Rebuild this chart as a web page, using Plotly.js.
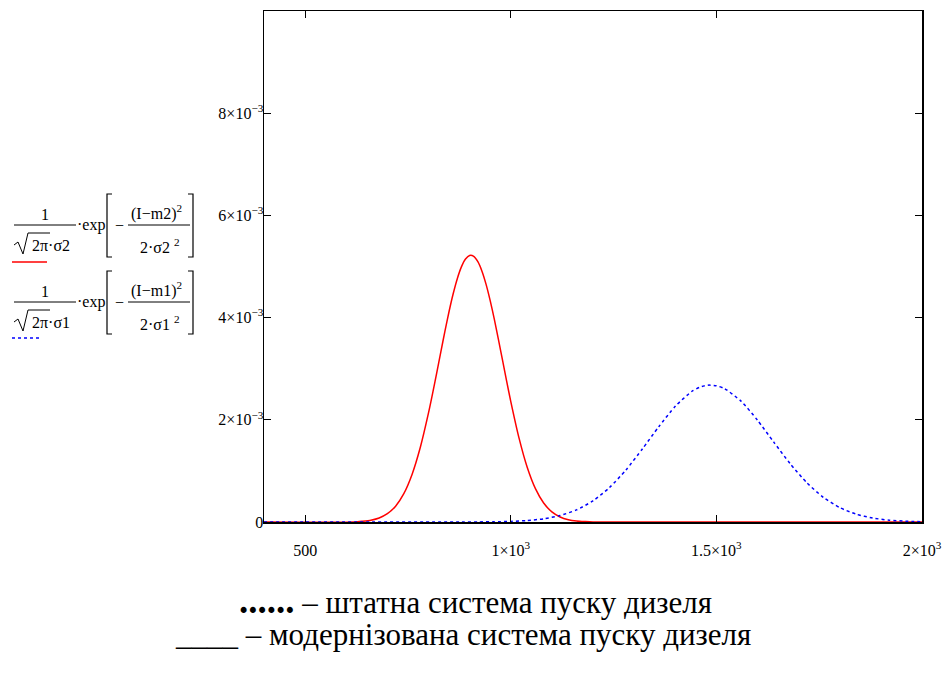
<!DOCTYPE html>
<html>
<head>
<meta charset="utf-8">
<script src="https://cdn.plot.ly/plotly-3.0.1.min.js"></script>
<style>body{margin:0;background:#fff}#chart{width:947px;height:677px}</style>
</head>
<body>
<div id="chart"></div>
<script>
// Modernized system (red, solid)
const redX = [400, 620, 640, 660, 680, 700, 720, 740, 760, 780, 800, 810, 820, 830, 840, 850, 860, 870, 880, 890, 900, 910, 920, 930, 940, 950, 960, 970, 980, 990, 1000, 1020, 1040, 1060, 1080, 1100, 1120, 1140, 1160, 1180, 1200, 2000];
const redY = [0, 0, 0.0000153, 0.0000359, 0.0000788, 0.000162, 0.000310, 0.000555, 0.000931, 0.001457, 0.002134, 0.002517, 0.002920, 0.003330, 0.003735, 0.004119, 0.004466, 0.004762, 0.004992, 0.005146, 0.005216, 0.005199, 0.005094, 0.004909, 0.004651, 0.004333, 0.003969, 0.003575, 0.003166, 0.002757, 0.002361, 0.001646, 0.001072, 0.000653, 0.000372, 0.000198, 0.0000984, 0.0000458, 0.0000199, 0.0000081, 0, 0];
// Standard system (blue, dotted)
const blueX = [400, 880, 920, 960, 1000, 1040, 1080, 1120, 1160, 1200, 1240, 1280, 1320, 1360, 1400, 1440, 1460, 1480, 1500, 1520, 1560, 1600, 1640, 1680, 1720, 1760, 1800, 1840, 1880, 1920, 1960, 2000];
const blueY = [0, 0.0000006, 0.0000018, 0.0000048, 0.0000122, 0.0000286, 0.0000622, 0.000126, 0.000237, 0.000414, 0.000673, 0.001017, 0.001429, 0.001865, 0.002264, 0.002554, 0.002639, 0.002678, 0.002666, 0.002610, 0.002365, 0.001992, 0.001559, 0.001135, 0.000768, 0.000483, 0.000282, 0.000153, 0.0000774, 0.0000364, 0.0000159, 0.0000064];

const xTickVals = [500, 1000, 1500, 2000];
const xTickText = ['500', '1×10<sup>3</sup>', '1.5×10<sup>3</sup>', '2×10<sup>3</sup>'];
const yTickVals = [0, 0.002, 0.004, 0.006, 0.008];
const yTickText = ['0', '2×10<sup>−3</sup>', '4×10<sup>−3</sup>', '6×10<sup>−3</sup>', '8×10<sup>−3</sup>'];

const legendLine1 = '<span style="font-size:37px"><b>......</b></span> – штатна система пуску дизеля';
const legendLine2 = '____ – модернізована система пуску дизеля';

// plot area in pixels
const L = 264, R = 922, T = 11, B = 522;
const W = 947, H = 677;
const px = x => (x - L) / (R - L);
const py = y => (B - y) / (B - T);

const FONT = 'Liberation Serif';

const annotations = [];
const shapes = [];
function txt(text, x, y, size, xanchor) {
  annotations.push({text: text, x: px(x), y: py(y), xref: 'paper', yref: 'paper',
    showarrow: false, xanchor: xanchor || 'center', yanchor: 'middle',
    font: {family: FONT, size: size || 17, color: '#000'}});
}
function line(x0, y0, x1, y1, color, width, dash) {
  shapes.push({type: 'line', xref: 'paper', yref: 'paper', x0: px(x0), y0: py(y0), x1: px(x1), y1: py(y1),
    line: {color: color || '#000', width: width || 1, dash: dash || 'solid'}});
}
function path(pts, width) {
  let d = '';
  pts.forEach((p, i) => { d += (i ? ' L ' : 'M ') + px(p[0]) + ',' + py(p[1]); });
  shapes.push({type: 'path', xref: 'paper', yref: 'paper', path: d, line: {color: '#000', width: width || 1}});
}
function formula(dy, idx) {
  txt('1', 45, 214 + dy, 16);
  line(14, 225 + dy, 76, 225 + dy);
  path([[14, 245 + dy], [18, 242 + dy], [23, 254 + dy], [28, 233 + dy], [50, 233 + dy]], 1);
  txt('2π·σ' + idx, 30, 245 + dy, 16, 'left');
  txt('·exp', 75, 225 + dy, 16, 'left');
  path([[112, 194 + dy], [107, 194 + dy], [107, 257 + dy], [112, 257 + dy]], 1.2);
  txt('−', 119, 225 + dy, 16);
  txt('(I−m' + idx + ')<sup>2</sup>', 129, 212 + dy, 16, 'left');
  line(128, 225 + dy, 190, 225 + dy);
  txt('2·σ' + idx + ' <sup>2</sup>', 160, 246 + dy, 16);
  path([[188, 194 + dy], [193, 194 + dy], [193, 257 + dy], [188, 257 + dy]], 1.2);
}
formula(0, '2');
formula(77, '1');
line(12, 262, 47, 262, '#ff0000', 1.5);
line(12, 338, 40, 338, '#0000ff', 1.5, '3px,3px');

txt(legendLine1, 475, 600, 31);
txt(legendLine2, 463, 634, 31);

const data = [
  {x: redX, y: redY, type: 'scatter', mode: 'lines', line: {color: '#ff0000', width: 1.5, shape: 'spline', smoothing: 0.6}, hoverinfo: 'none'},
  {x: blueX, y: blueY, type: 'scatter', mode: 'lines', line: {color: '#0000ff', width: 1.5, dash: '3px,3px', shape: 'spline', smoothing: 0.6}, hoverinfo: 'none'}
];

const layout = {
  width: W, height: H,
  margin: {l: L, r: W - R, t: T, b: H - B, pad: 0},
  paper_bgcolor: '#fff', plot_bgcolor: '#fff',
  showlegend: false,
  font: {family: FONT, size: 16, color: '#000'},
  xaxis: {range: [400, 2000], tickvals: xTickVals, ticktext: xTickText,
    showline: true, linecolor: '#000', linewidth: 1.5, mirror: 'ticks',
    ticks: 'inside', ticklen: 7, tickcolor: '#000', tickwidth: 1,
    showgrid: false, zeroline: false, ticklabelstandoff: 13,
    tickfont: {family: FONT, size: 16, color: '#000'}},
  yaxis: {range: [0, 0.01], tickvals: yTickVals, ticktext: yTickText,
    showline: true, linecolor: '#000', linewidth: 1.5, mirror: 'ticks',
    ticks: 'inside', ticklen: 7, tickcolor: '#000', tickwidth: 1,
    showgrid: false, zeroline: false, ticklabelstandoff: -4,
    tickfont: {family: FONT, size: 16, color: '#000'}},
  annotations: annotations,
  shapes: shapes
};

Plotly.newPlot('chart', data, layout, {staticPlot: true, displayModeBar: false});
</script>
</body>
</html>
